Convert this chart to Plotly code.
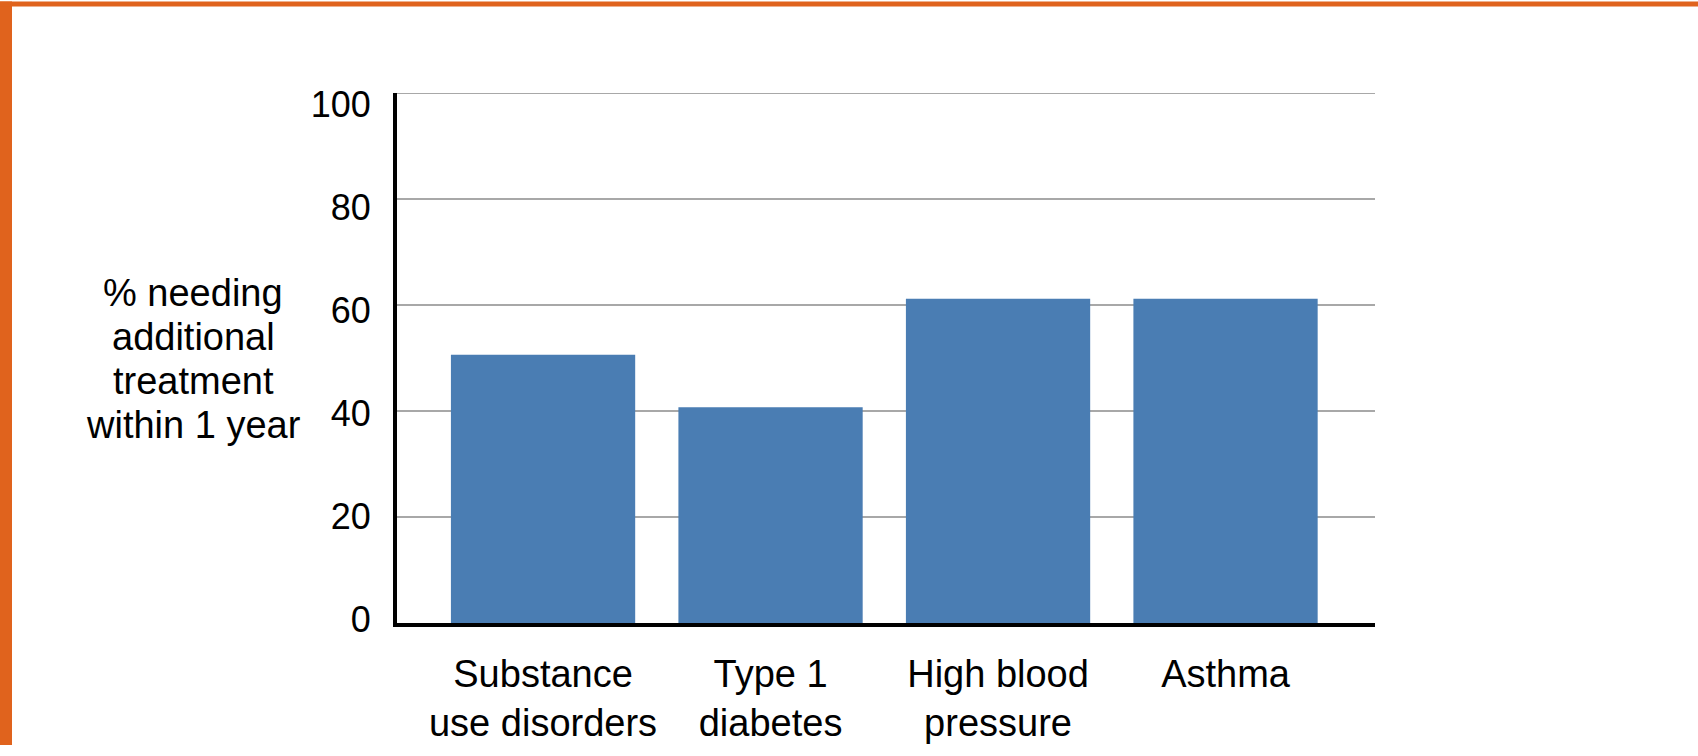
import plotly.graph_objects as go

# Share of patients needing additional treatment within one year, by condition
categories = ["Substance use disorders", "Type 1 diabetes", "High blood pressure", "Asthma"]
tick_labels = ["Substance<br>use disorders", "Type 1<br>diabetes", "High blood<br>pressure", "Asthma"]
pct_needing = [50.6, 40.7, 61.2, 61.2]
y_ticks = [0, 20, 40, 60, 80, 100]
y_title_lines = ["% needing", "additional", "treatment", "within 1 year"]

W, H = 1698, 756
L, R, T, B = 397, 323, 93, 124
PW, PH = W - L - R, H - T - B

FONT = "Liberation Sans, Arial, Helvetica, sans-serif"
ORANGE = "#E0631D"
GRID = "#A8A8A8"


def px_x(p):
    return (p - L) / PW


def px_y(p):
    return (H - B - p) / PH


fig = go.Figure()
fig.add_trace(
    go.Bar(
        x=categories,
        y=pct_needing,
        width=0.81,
        marker=dict(color="#4A7DB3", line=dict(width=0)),
        hoverinfo="x+y",
        showlegend=False,
    )
)
# Transparent companion trace that carries the tick-label axis
fig.add_trace(
    go.Scatter(
        x=categories,
        y=pct_needing,
        yaxis="y2",
        mode="markers",
        marker=dict(opacity=0),
        hoverinfo="skip",
        showlegend=False,
    )
)

fig.update_layout(
    width=W,
    height=H,
    margin=dict(l=L, r=R, t=T, b=B, pad=0),
    paper_bgcolor="white",
    plot_bgcolor="white",
    showlegend=False,
    font=dict(family=FONT, color="black"),
    xaxis=dict(
        type="category",
        tickvals=categories,
        ticktext=tick_labels,
        range=[-0.642, 3.657],
        showline=True,
        linecolor="black",
        linewidth=4,
        ticks="",
        showgrid=False,
        tickfont=dict(size=38, family=FONT, color="black"),
        ticklabelstandoff=14,
    ),
    # value axis: gridlines and axis line
    yaxis=dict(
        range=[0, 100],
        tickvals=y_ticks,
        showgrid=True,
        gridcolor=GRID,
        gridwidth=2,
        zeroline=False,
        showline=True,
        linecolor="black",
        linewidth=4,
        ticks="",
        showticklabels=False,
    ),
    # tick-label axis: numbers set slightly tighter than the gridlines
    yaxis2=dict(
        overlaying="y",
        side="left",
        range=[-0.765, 102.3],
        tickvals=y_ticks,
        showgrid=False,
        zeroline=False,
        showline=True,
        linecolor="black",
        linewidth=4,
        ticks="",
        tickfont=dict(size=36, family=FONT, color="black"),
        ticklabelstandoff=15,
    ),
)

# Top gridline at 100 (the axis omits the gridline at the range edge)
fig.add_shape(type="line", xref="paper", yref="y",
              x0=0, x1=1, y0=y_ticks[-1], y1=y_ticks[-1],
              line=dict(color=GRID, width=2), layer="below")

# Multi-line y-axis title, one annotation per line
for i, line in enumerate(y_title_lines):
    fig.add_annotation(
        text=line,
        xref="paper",
        yref="paper",
        x=px_x(193),
        y=px_y(296 + 45 * i),
        xanchor="center",
        yanchor="middle",
        showarrow=False,
        font=dict(size=38, family=FONT, color="black"),
    )

# Orange slide frame along the left and top edges
fig.add_shape(type="rect", xref="paper", yref="paper",
              x0=px_x(0), x1=px_x(12), y0=px_y(H), y1=px_y(0),
              fillcolor=ORANGE, line=dict(width=0), layer="above")
fig.add_shape(type="rect", xref="paper", yref="paper",
              x0=px_x(0), x1=px_x(W), y0=px_y(5), y1=px_y(0),
              fillcolor=ORANGE, line=dict(width=0), layer="above")

fig.write_html("out.html")
